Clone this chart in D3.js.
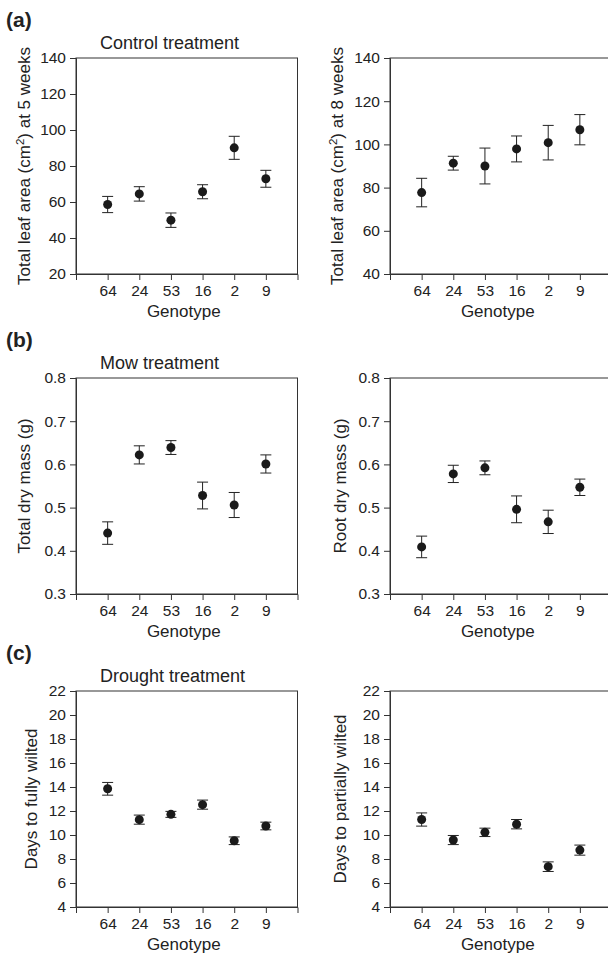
<!DOCTYPE html>
<html>
<head>
<meta charset="utf-8">
<script src="https://cdn.jsdelivr.net/npm/d3@7"></script>
<style>
  body { margin: 0; background: #fff; }
  text { font-family: "Liberation Sans", Arial, sans-serif; fill: #222; }
</style>
</head>
<body>
<div id="chart"></div>
<script>
// genotypes along the x axis (same order in every panel)
const genotypes = ["64", "24", "53", "16", "2", "9"];

// (a) control treatment - leaf area
const leaf5Mean = [58.6, 64.5, 49.9, 65.7, 90.1, 72.9];
const leaf5Se   = [4.5, 4.0, 4.0, 3.9, 6.4, 4.7];
const leaf8Mean = [77.7, 91.3, 90.0, 97.9, 100.8, 106.8];
const leaf8Se   = [6.6, 3.2, 8.3, 6.0, 8.0, 7.0];

// (b) mow treatment - dry mass
const totalMassMean = [0.441, 0.622, 0.639, 0.528, 0.506, 0.601];
const totalMassSe   = [0.026, 0.021, 0.016, 0.031, 0.029, 0.021];
const rootMassMean  = [0.409, 0.578, 0.592, 0.496, 0.467, 0.547];
const rootMassSe    = [0.025, 0.020, 0.016, 0.031, 0.027, 0.019];

// (c) drought treatment - days to wilting
const fullyWiltMean   = [13.85, 11.28, 11.72, 12.53, 9.52, 10.75];
const fullyWiltSe     = [0.53, 0.38, 0.25, 0.38, 0.32, 0.32];
const partlyWiltMean  = [11.29, 9.58, 10.22, 10.90, 7.36, 8.74];
const partlyWiltSe    = [0.55, 0.38, 0.35, 0.39, 0.40, 0.42];

const width = 608, height = 956;
const svg = d3.select("#chart").append("svg")
    .attr("width", width)
    .attr("height", height);

const panels = [
  { x0: 76, y0: 58, tag: "(a)", title: "Control treatment", ylabel: ["Total leaf area (cm", "2", ") at 5 weeks"],
    mean: leaf5Mean, se: leaf5Se, domain: [20, 140], ticks: d3.range(20, 141, 20), fmt: d3.format("d"), labOff: 52 },
  { x0: 390, y0: 58, ylabel: ["Total leaf area (cm", "2", ") at 8 weeks"],
    mean: leaf8Mean, se: leaf8Se, domain: [40, 140], ticks: d3.range(40, 141, 20), fmt: d3.format("d"), labOff: 53 },
  { x0: 76, y0: 378, tag: "(b)", title: "Mow treatment", ylabel: ["Total dry mass (g)"],
    mean: totalMassMean, se: totalMassSe, domain: [0.3, 0.8], ticks: [0.3, 0.4, 0.5, 0.6, 0.7, 0.8], fmt: d3.format(".1f"), labOff: 52 },
  { x0: 390, y0: 378, ylabel: ["Root dry mass (g)"],
    mean: rootMassMean, se: rootMassSe, domain: [0.3, 0.8], ticks: [0.3, 0.4, 0.5, 0.6, 0.7, 0.8], fmt: d3.format(".1f"), labOff: 50 },
  { x0: 76, y0: 691, tag: "(c)", title: "Drought treatment", ylabel: ["Days to fully wilted"],
    mean: fullyWiltMean, se: fullyWiltSe, domain: [4, 22], ticks: d3.range(4, 23, 2), fmt: d3.format("d"), labOff: 45 },
  { x0: 390, y0: 691, ylabel: ["Days to partially wilted"],
    mean: partlyWiltMean, se: partlyWiltSe, domain: [4, 22], ticks: d3.range(4, 23, 2), fmt: d3.format("d"), labOff: 50 }
];

const pw = 221.5, ph = 216;

panels.forEach(p => {
  const g = svg.append("g").attr("transform", `translate(${p.x0},${p.y0})`);

  const x = d3.scalePoint().domain(genotypes).range([0, pw]).padding(1);
  const y = d3.scaleLinear().domain(p.domain).range([ph, 0]);

  // frame
  g.append("rect")
    .attr("x", 0).attr("y", 0)
    .attr("width", pw).attr("height", ph)
    .attr("fill", "none")
    .attr("stroke", "#333")
    .attr("stroke-width", 1);

  const yAxis = g.append("g").call(d3.axisLeft(y).tickValues(p.ticks).tickFormat(p.fmt).tickSize(6).tickPadding(4));
  const xAxis = g.append("g").attr("transform", `translate(0,${ph})`)
    .call(d3.axisBottom(x).tickSize(6).tickPadding(5));
  [yAxis, xAxis].forEach(a => {
    a.select(".domain").attr("stroke", "#333");
    a.selectAll(".tick line").attr("stroke", "#333");
    a.selectAll("text").style("font-size", "15.5px").attr("fill", "#222")
      .style("font-family", '"Liberation Sans", Arial, sans-serif');
  });

  // error bars
  const bars = g.selectAll(".err").data(genotypes).enter().append("g");
  bars.append("line")
    .attr("x1", d => x(d)).attr("x2", d => x(d))
    .attr("y1", (d, i) => y(p.mean[i] + p.se[i]))
    .attr("y2", (d, i) => y(p.mean[i] - p.se[i]))
    .attr("stroke", "#222");
  [1, -1].forEach(s => {
    bars.append("line")
      .attr("x1", d => x(d) - 5.5).attr("x2", d => x(d) + 5.5)
      .attr("y1", (d, i) => y(p.mean[i] + s * p.se[i]))
      .attr("y2", (d, i) => y(p.mean[i] + s * p.se[i]))
      .attr("stroke", "#222");
  });

  g.selectAll("circle").data(genotypes).enter().append("circle")
    .attr("cx", d => x(d))
    .attr("cy", (d, i) => y(p.mean[i]))
    .attr("r", 4.5)
    .attr("fill", "#1a1a1a");

  // axis titles
  g.append("text")
    .attr("x", pw / 2 - 3)
    .attr("y", ph + 43)
    .attr("text-anchor", "middle")
    .style("font-size", "17px")
    .text("Genotype");

  const yl = g.append("text")
    .attr("transform", `translate(${-p.labOff},${ph / 2}) rotate(-90)`)
    .attr("dy", "0.35em")
    .attr("text-anchor", "middle")
    .style("font-size", "17px");
  yl.append("tspan").text(p.ylabel[0]);
  if (p.ylabel.length > 1) {
    yl.append("tspan").attr("baseline-shift", "super").style("font-size", "11.5px").text(p.ylabel[1]);
    yl.append("tspan").text(p.ylabel[2]);
  }

  if (p.title) {
    g.append("text")
      .attr("x", 100 - p.x0)
      .attr("y", -9)
      .style("font-size", "18px")
      .text(p.title);
  }
  if (p.tag) {
    svg.append("text")
      .attr("x", 6)
      .attr("y", p.y0 - 31)
      .style("font-size", "21px")
      .style("font-weight", "bold")
      .text(p.tag);
  }
});
</script>
</body>
</html>
